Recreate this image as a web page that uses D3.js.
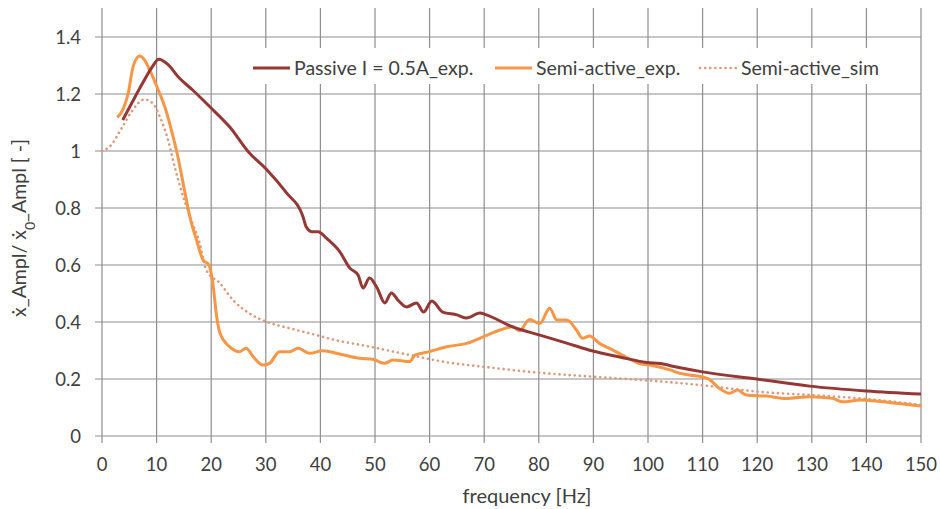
<!DOCTYPE html>
<html>
<head>
<meta charset="utf-8">
<script src="https://cdn.jsdelivr.net/npm/d3@7"></script>
<style>
  body { margin: 0; background: #fff; }
  svg text { font-family: Lato, "Open Sans", sans-serif; fill: #404040; }
</style>
</head>
<body>
<svg id="chart" width="940" height="509"></svg>
<script>
'use strict';

// frequency [Hz] / amplitude ratio
let passiveFreq = [3.8, 5.5, 7.5, 9.2, 10.4, 12, 14.2, 16.6, 19.7, 23.4, 27, 30.1, 33.8, 36.8, 37.4, 38.4, 39.6, 41.1, 43.5, 45.4, 46.9, 47.8, 49, 50.3, 51.8, 53, 54.2, 55.8, 57.6, 58.9, 60.4, 62.4, 65, 66.8, 69.2, 70.4, 75.2, 80.2, 85.1, 89.9, 94.8, 99.8, 102.2, 105.2, 110, 119.9, 129.6, 140, 150];
let passiveVal = [1.109, 1.17, 1.24, 1.295, 1.322, 1.305, 1.255, 1.214, 1.156, 1.084, 0.993, 0.936, 0.853, 0.77, 0.734, 0.717, 0.717, 0.694, 0.648, 0.589, 0.565, 0.519, 0.554, 0.523, 0.467, 0.502, 0.477, 0.453, 0.467, 0.435, 0.474, 0.435, 0.425, 0.414, 0.432, 0.425, 0.383, 0.354, 0.326, 0.298, 0.277, 0.258, 0.254, 0.242, 0.225, 0.2, 0.175, 0.158, 0.147];

let semiExpFreq = [2.8, 3.8, 4.8, 5.7, 6.9, 7.8, 9.0, 10.3, 11.5, 12.7, 13.9, 15.1, 16.1, 17.3, 18.5, 19.6, 20.3, 21, 21.6, 23.4, 25.2, 26.4, 27.7, 29.5, 30.7, 32.5, 34.4, 35.9, 38, 40.4, 43.5, 47.2, 49.6, 51.8, 53.3, 56.4, 57.3, 60, 63.1, 66.8, 69.8, 72.9, 75.2, 76.5, 78.3, 80.2, 82, 83.3, 85.1, 86.9, 88, 89.3, 91.1, 93.5, 95.9, 98.3, 100.3, 104, 105.8, 107.6, 110.9, 113.1, 114.9, 116.4, 118, 121.7, 125.3, 129.6, 133.8, 135.7, 138.8, 143, 146.7, 150];
let semiExpVal = [1.118, 1.144, 1.202, 1.296, 1.333, 1.319, 1.273, 1.214, 1.155, 1.074, 0.98, 0.863, 0.769, 0.688, 0.618, 0.6, 0.536, 0.419, 0.361, 0.313, 0.296, 0.308, 0.278, 0.249, 0.255, 0.296, 0.296, 0.308, 0.29, 0.299, 0.288, 0.273, 0.269, 0.255, 0.267, 0.261, 0.284, 0.296, 0.313, 0.325, 0.348, 0.372, 0.383, 0.37, 0.409, 0.395, 0.448, 0.407, 0.407, 0.372, 0.343, 0.351, 0.325, 0.302, 0.278, 0.255, 0.249, 0.232, 0.22, 0.214, 0.202, 0.167, 0.15, 0.161, 0.144, 0.14, 0.132, 0.138, 0.132, 0.12, 0.126, 0.12, 0.112, 0.105];

let semiSimFreq = [0, 1.4, 3.6, 5.4, 7.8, 9.3, 10.6, 12.1, 13.3, 14.5, 16.1, 17.9, 19.1, 21.6, 24, 27, 30.1, 34.4, 39.3, 42.2, 48.4, 56.4, 63.7, 69.8, 78.9, 89.9, 99.8, 110, 120.4, 129.6, 140, 150];
let semiSimVal = [1.0, 1.015, 1.08, 1.138, 1.181, 1.167, 1.12, 1.039, 0.945, 0.863, 0.77, 0.676, 0.582, 0.536, 0.477, 0.43, 0.401, 0.378, 0.354, 0.339, 0.316, 0.284, 0.257, 0.243, 0.224, 0.208, 0.195, 0.178, 0.155, 0.144, 0.13, 0.109];

let xTicks = d3.range(0, 151, 10);
let yTicks = [0, 0.2, 0.4, 0.6, 0.8, 1, 1.2, 1.4];
let yTickLabels = ["0", "0.2", "0.4", "0.6", "0.8", "1", "1.2", "1.4"];

let seriesNames = ["Passive I = 0.5A_exp.", "Semi-active_exp.", "Semi-active_sim"];
let seriesColors = ["#953735", "#f79646", "#dc9a7c"];

let series = [
    {name: seriesNames[0], color: seriesColors[0], dash: null, data: passiveFreq.map((f, i) => ({f: f, v: passiveVal[i]}))},
    {name: seriesNames[1], color: seriesColors[1], dash: null, data: semiExpFreq.map((f, i) => ({f: f, v: semiExpVal[i]}))},
    {name: seriesNames[2], color: seriesColors[2], dash: "0.1,5", data: semiSimFreq.map((f, i) => ({f: f, v: semiSimVal[i]}))}
];

let svg = d3.select("#chart"),
    margin = {top: 8, left: 102, right: 19, bottom: 73},
    width = +svg.attr("width"),
    height = +svg.attr("height");

let x = d3.scaleLinear()
    .domain([0, 150])
    .range([margin.left, width - margin.right]);

let y = d3.scaleLinear()
    .domain([0, 1.4])
    .range([height - margin.bottom, 37]);

let gridColor = "#8e8e8e";

// vertical gridlines reach the top of the plot area
svg.append("g")
    .selectAll("line")
    .data(xTicks)
    .enter().append("line")
    .attr("x1", d => x(d)).attr("x2", d => x(d))
    .attr("y1", margin.top).attr("y2", y(0) + 7)
    .attr("stroke", gridColor)
    .attr("stroke-width", 1.2);

svg.append("g")
    .selectAll("line")
    .data(yTicks)
    .enter().append("line")
    .attr("x1", x(0) - 7).attr("x2", x(150))
    .attr("y1", d => y(d)).attr("y2", d => y(d))
    .attr("stroke", gridColor)
    .attr("stroke-width", 1.2);

// tick labels
svg.append("g")
    .selectAll("text")
    .data(xTicks)
    .enter().append("text")
    .attr("x", d => x(d))
    .attr("y", y(0) + 35)
    .attr("text-anchor", "middle")
    .style("font-size", "18.5px")
    .text(d => d);

svg.append("g")
    .selectAll("text")
    .data(yTicks)
    .enter().append("text")
    .attr("x", 81)
    .attr("y", d => y(d) + 6.5)
    .attr("text-anchor", "end")
    .style("font-size", "18.5px")
    .text((d, i) => yTickLabels[i]);

// axis titles
svg.append("text")
    .attr("x", 527)
    .attr("y", 503)
    .attr("text-anchor", "middle")
    .style("font-size", "20px")
    .text("frequency [Hz]");

let yTitle = svg.append("text")
    .attr("transform", "translate(26,228) rotate(-90)")
    .attr("text-anchor", "middle")
    .style("font-size", "19.5px");
yTitle.append("tspan").text("ẋ_Ampl/ ẋ");
yTitle.append("tspan").attr("baseline-shift", "sub").style("font-size", "14px").text("0");
yTitle.append("tspan").text("_Ampl [ -]");

// series
let line = d3.line()
    .curve(d3.curveMonotoneX)
    .x(d => x(d.f))
    .y(d => y(d.v));

// draw order: sim at the back, then the experiments
[series[2], series[1], series[0]].forEach(s => {
    svg.append("path")
        .attr("d", line(s.data))
        .attr("fill", "none")
        .attr("stroke", s.color)
        .attr("stroke-width", s.dash ? 2.6 : 3)
        .attr("stroke-linecap", s.dash ? "round" : "butt")
        .attr("stroke-linejoin", "round")
        .attr("stroke-dasharray", s.dash);
});

// legend
let legend = svg.append("g");
legend.append("rect")
    .attr("x", 245).attr("y", 48)
    .attr("width", 660).attr("height", 36)
    .attr("fill", "#fff");

let legendX = [253, 495, 700];
let legendTextX = [294, 536, 741];
series.forEach((s, i) => {
    legend.append("line")
        .attr("x1", legendX[i]).attr("x2", legendX[i] + 37)
        .attr("y1", 68).attr("y2", 68)
        .attr("stroke", s.color)
        .attr("stroke-width", s.dash ? 2.6 : 3)
        .attr("stroke-linecap", s.dash ? "round" : "butt")
        .attr("stroke-dasharray", s.dash);
    legend.append("text")
        .attr("x", legendTextX[i])
        .attr("y", 75)
        .style("font-size", "19.5px")
        .text(s.name);
});
</script>
</body>
</html>
